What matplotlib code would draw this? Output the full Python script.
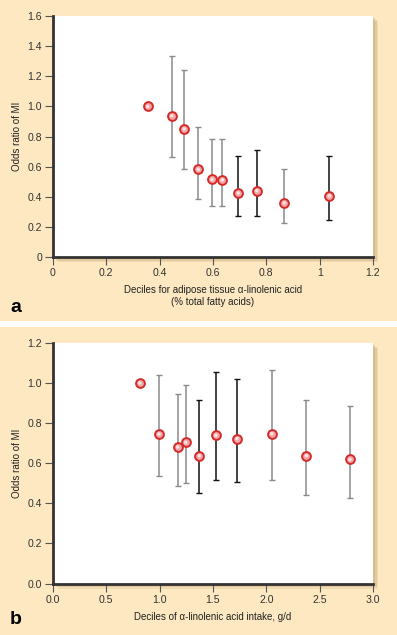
import matplotlib
matplotlib.use("Agg")
import matplotlib.pyplot as plt
from matplotlib.patches import Rectangle

plt.rcParams['font.family'] = ['Liberation Sans', 'DejaVu Sans']

# panel a: adipose tissue alpha-linolenic acid deciles
a_x = [0.355, 0.445, 0.492, 0.545, 0.596, 0.635, 0.695, 0.764, 0.867, 1.036]
a_or = [1.0, 0.939, 0.851, 0.583, 0.517, 0.513, 0.426, 0.442, 0.362, 0.408]
a_lo = [None, 0.667, 0.583, 0.387, 0.338, 0.338, 0.276, 0.276, 0.227, 0.247]
a_hi = [None, 1.337, 1.242, 0.866, 0.784, 0.784, 0.674, 0.711, 0.583, 0.670]
a_bar = ['gray', 'gray', 'gray', 'gray', 'gray', 'gray', 'black', 'black', 'gray', 'black']

# panel b: alpha-linolenic acid intake deciles, g/d
b_x = [0.813, 0.994, 1.169, 1.244, 1.372, 1.528, 1.725, 2.05, 2.375, 2.784]
b_or = [1.0, 0.746, 0.681, 0.704, 0.638, 0.739, 0.723, 0.748, 0.638, 0.619]
b_lo = [None, 0.534, 0.484, 0.499, 0.453, 0.518, 0.506, 0.516, 0.444, 0.429]
b_hi = [None, 1.039, 0.944, 0.989, 0.914, 1.053, 1.021, 1.064, 0.914, 0.886]
b_bar = ['gray', 'gray', 'gray', 'gray', 'black', 'black', 'black', 'gray', 'gray', 'gray']

cream = '#fde8c2'
W, H = 397, 635

fig = plt.figure(figsize=(W / 100, H / 100), dpi=100)
fig.patch.set_facecolor('white')

# cream backgrounds with white separator
fig.patches.append(Rectangle((0, 1 - 320.7 / H), 1, 320.7 / H, transform=fig.transFigure,
                             facecolor=cream, edgecolor='none', zorder=-10))
fig.patches.append(Rectangle((0, 0), 1, 1 - 326.7 / H, transform=fig.transFigure,
                             facecolor=cream, edgecolor='none', zorder=-10))


def draw_panel(box, xs, ors, los, his, cols, xlim, ylim, xticks, yticks, xfmt, yfmt, xlabel, letter, letter_y):
    l, t, r, b = box
    # drop shadow behind the plot area
    for k, al in [(5, 0.25), (3.5, 0.35), (2, 0.45)]:
        fig.patches.append(Rectangle(((l + k) / W, 1 - (b + k) / H), (r - l) / W, (b - t) / H,
                                     transform=fig.transFigure, facecolor='#c9ad7c',
                                     edgecolor='none', alpha=al, zorder=-5))
    ax = fig.add_axes([l / W, 1 - b / H, (r - l) / W, (b - t) / H])
    ax.set_facecolor('white')
    for i in range(len(xs)):
        if los[i] is not None:
            c = '#8a8a8a' if cols[i] == 'gray' else '#111111'
            ax.errorbar(xs[i], ors[i], yerr=[[ors[i] - los[i]], [his[i] - ors[i]]],
                        fmt='none', ecolor=c, elinewidth=1.1, capsize=2.2, capthick=1.0, zorder=2)
    ax.scatter(xs, ors, s=40, facecolor='#f3a6a6', edgecolor='#d42a2a', linewidth=1.4, zorder=3)
    ax.scatter(xs, ors, s=6, facecolor='#fbe3e3', edgecolor='none', zorder=4)
    ax.set_xlim(xlim)
    ax.set_ylim(ylim)
    ax.set_xticks(xticks)
    ax.set_yticks(yticks)
    ax.set_xticklabels([xfmt(v) for v in xticks])
    ax.set_yticklabels([yfmt(v) for v in yticks])
    for s in ['top', 'right']:
        ax.spines[s].set_visible(False)
    for s in ['left', 'bottom']:
        ax.spines[s].set_color('#333333')
        ax.spines[s].set_linewidth(2.0)
    ax.tick_params(direction='out', length=6, width=0.8, color='#555555',
                   labelsize=7.6, labelcolor='#333333', pad=2)
    ax.set_ylabel('Odds ratio of MI', fontsize=7, color='#222222', labelpad=4)
    ax.set_xlabel(xlabel, fontsize=7, color='#222222', labelpad=5, linespacing=1.25)
    fig.text(10 / W, 1 - letter_y / H, letter, fontsize=14, fontweight='bold', va='center', ha='left')
    return ax


def fmt_a(v):
    return '0' if v == 0 else ('1' if v == 1 else '%.1f' % v)


draw_panel((53, 16, 373, 257.3), a_x, a_or, a_lo, a_hi, a_bar,
           (0, 1.2), (0, 1.6), [0, 0.2, 0.4, 0.6, 0.8, 1.0, 1.2],
           [0, 0.2, 0.4, 0.6, 0.8, 1.0, 1.2, 1.4, 1.6], fmt_a,
           lambda v: '0' if v == 0 else '%.1f' % v,
           'Deciles for adipose tissue \u03b1-linolenic acid\n(% total fatty acids)', 'a', 307)

draw_panel((53, 343, 373, 583.5), b_x, b_or, b_lo, b_hi, b_bar,
           (0, 3.0), (0, 1.2), [0, 0.5, 1.0, 1.5, 2.0, 2.5, 3.0],
           [0, 0.2, 0.4, 0.6, 0.8, 1.0, 1.2], lambda v: '%.1f' % v,
           lambda v: '%.1f' % v,
           'Deciles of \u03b1-linolenic acid intake, g/d', 'b', 620)

fig.savefig('out.png', dpi=100, facecolor=fig.get_facecolor())
